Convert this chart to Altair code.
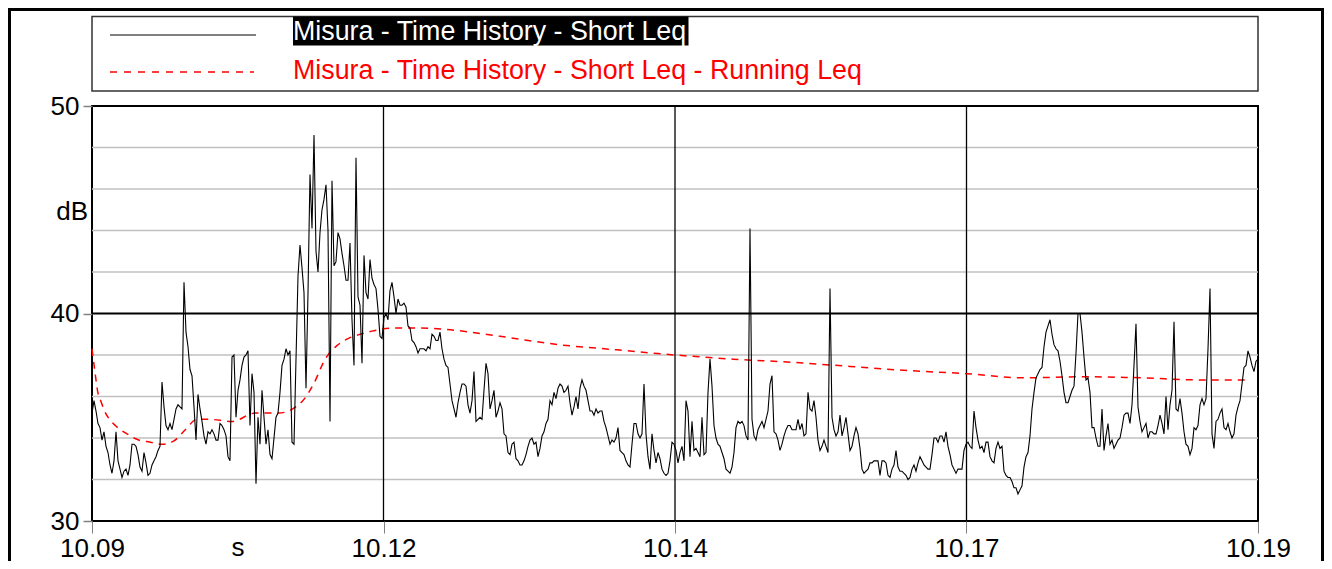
import json
import altair as alt
import pandas as pd

# ---------------- data ----------------
T_START = 10.09
T_END = 10.19
N_INTERVALS = 583  # uniform sampling of the short Leq time history

short_leq = [
    35.2, 35.8, 35.3, 34.7, 34.5, 33.9, 34.3, 33.6, 33.3, 32.7,
    32.3, 32.9, 34.3, 32.9, 32.5, 32.1, 32.4, 32.5, 32.2, 32.7,
    33.7, 33.7, 33.6, 33.2, 32.6, 32.4, 33.3, 32.8, 32.2, 32.3,
    32.7, 32.9, 33.1, 33.4, 33.6, 36.7, 35.5, 34.6, 34.4, 34.7,
    34.4, 34.9, 35.4, 35.6, 35.5, 35.4, 41.5, 39.1, 38.4, 37.3,
    37.0, 35.5, 33.9, 36.1, 35.4, 34.8, 34.1, 33.7, 34.3, 34.2,
    34.4, 34.2, 33.9, 33.9, 34.7, 34.6, 34.4, 34.1, 33.1, 32.9,
    37.9, 38.0, 35.0,
    36.3, 36.8, 37.5, 37.9, 38.0, 38.2, 34.6, 37.1, 36.2, 31.8,
    35.0, 33.7, 36.3, 35.0, 33.7, 34.4, 33.2, 33.0, 34.0, 35.0,
    35.2, 36.2, 37.5, 37.8, 38.3, 38.0, 38.2, 33.8, 33.7, 37.8,
    41.8, 43.3, 42.2, 41.0, 36.4, 41.0, 46.7, 44.1, 48.6, 43.0,
    42.0, 43.9, 45.0, 45.5, 46.2, 44.0, 34.8, 46.4, 42.3, 42.5,
    43.9, 43.6, 42.9, 42.3, 41.6, 41.6, 43.4, 39.7, 37.5, 47.5,
    40.8, 40.4, 37.6, 42.8, 41.0, 40.7, 42.6, 41.7, 41.4, 41.2,
    40.2, 38.9, 38.8,
    39.8, 40.0, 39.7, 41.1, 41.5, 40.8, 40.0, 40.7, 40.4, 40.4,
    40.5, 40.3, 39.4, 39.3, 38.7, 38.6, 38.4, 38.1, 38.3, 38.3,
    38.3, 38.2, 38.4, 38.3, 39.0, 38.9, 38.7, 38.7, 39.1, 38.3,
    37.8, 37.5, 37.4, 36.6, 35.8, 35.4, 35.0, 35.7, 36.2, 36.6,
    36.6, 36.5, 35.6, 35.2, 35.8, 37.2, 34.8, 34.9, 35.0, 34.9,
    36.3, 37.6, 37.1, 35.4, 35.8, 36.3, 35.0, 35.3, 35.7, 35.4,
    34.2, 34.1, 33.3, 33.2, 33.7, 33.8, 33.0, 32.9, 32.7, 32.7,
    32.9, 33.2, 33.6,
    33.9, 34.0, 33.7, 33.8, 33.1, 33.5, 34.1, 34.3, 34.7, 34.9,
    35.8, 35.6, 36.2, 35.9, 36.4, 36.6, 36.5, 36.2, 36.3, 36.5,
    35.7, 35.1, 35.5, 36.0, 35.4, 36.4, 36.8, 36.5, 36.3, 35.8,
    35.3, 35.3, 35.1, 35.4, 35.2, 35.3, 35.3, 34.8, 34.5, 34.1,
    33.7, 33.9, 33.8, 34.0, 34.5, 33.4, 33.3, 33.2, 32.9, 32.7,
    32.6, 33.7, 34.7, 34.7, 34.2, 34.0, 34.2, 36.6, 34.2, 33.1,
    32.5, 34.2, 33.4, 32.8, 33.3, 33.0, 32.5, 32.3, 32.2, 32.3,
    32.9, 33.8, 33.7,
    33.4, 32.8, 33.3, 33.6, 32.9, 35.8, 35.3, 33.1, 34.8, 33.4,
    33.5, 33.3, 33.1, 35.0, 33.2, 33.3, 36.2, 37.8, 36.5, 34.6,
    34.0, 33.7, 33.6, 33.3, 33.0, 32.5, 32.4, 32.3, 32.6, 33.3,
    34.5, 34.8, 34.7, 34.8, 34.6, 34.1, 33.9, 44.1, 34.9, 34.1,
    33.9, 34.4, 34.6, 34.8, 34.5, 34.9, 35.3, 36.6, 37.0, 34.3,
    34.2, 33.9, 33.4, 33.7, 34.1, 34.4, 34.6, 34.6, 34.4, 34.4,
    34.4, 34.9, 34.4, 34.7, 34.1, 34.2, 36.2, 35.4, 35.3, 35.8,
    35.0, 33.9, 33.4,
    33.6, 33.9, 33.6, 33.3, 41.2, 35.0, 34.4, 34.1, 34.3, 35.1,
    34.1, 34.5, 35.0, 34.2, 33.4, 33.6, 34.1, 34.5, 34.2, 33.5,
    32.5, 32.3, 32.4, 32.5, 32.8, 32.8, 32.9, 32.9, 32.9, 32.2,
    32.9, 32.9, 32.8, 32.2, 32.1, 32.5, 32.7, 33.4, 32.6, 32.4,
    32.4, 32.3, 32.2, 32.0, 32.1, 32.5, 32.7, 32.4, 32.8, 33.1,
    32.9, 32.7, 32.6, 32.5, 32.5, 33.2, 34.0, 34.0, 33.8, 34.1,
    34.1, 33.8, 34.3, 33.6, 33.2, 32.7, 32.5, 32.3, 32.5, 32.5,
    32.5, 33.4, 33.7,
    33.8, 33.6, 33.5, 35.3, 34.5, 33.9, 33.5, 33.6, 33.3, 33.8,
    33.8, 33.1, 32.9, 32.8, 33.5, 33.8, 33.5, 33.6, 32.4, 32.2,
    32.1, 32.1, 31.9, 31.6, 31.6, 31.3, 31.5, 31.7, 32.6, 33.1,
    33.3, 34.1, 35.4, 36.2, 36.9, 37.1, 37.3, 37.4, 38.4, 39.1,
    39.4, 39.7, 39.0, 38.5, 38.3, 38.2, 37.7, 37.0, 36.2, 35.7,
    35.7, 36.0, 36.3, 36.5, 38.1, 40.0, 40.0, 39.1, 37.9, 36.8,
    36.9, 36.2, 34.5, 34.5, 34.0, 33.6, 33.6, 35.4, 33.4, 34.1,
    34.7, 33.7, 33.9,
    33.5, 33.7, 33.9, 34.0, 34.5, 35.1, 35.2, 35.2, 34.7, 35.6,
    37.5, 39.5, 35.5, 34.8, 34.3, 34.5, 34.7, 34.0, 34.3, 34.3,
    34.2, 34.2, 34.6, 35.1, 34.7, 34.2, 36.0, 34.4, 35.6, 36.3,
    39.6, 35.4, 35.3, 35.9, 35.2, 34.3, 33.7, 33.6, 33.2, 33.5,
    34.5, 34.4, 34.6, 35.6, 35.9, 35.6, 35.9, 38.3, 41.2, 34.2,
    33.5, 34.8, 34.9, 35.2, 35.4, 34.5, 34.4, 34.7, 34.3, 34.0,
    34.2, 35.1, 35.5, 35.8, 36.6, 37.4, 37.5, 38.2, 37.9, 37.5,
    37.2, 37.7, 37.8,
]

# running Leq: time offset (ms from 10.09 s) and level (dB)
running_ms = [0, 0.25, 0.5, 0.75, 1, 1.5, 2, 3, 4, 5, 6, 7, 8, 9, 10, 12, 14, 16,
              18, 19, 20, 21, 22, 23, 24, 26, 28, 30, 35, 40, 45, 50, 55, 60, 65,
              70, 75, 80, 85, 90, 95, 99]
running_leq = [38.3, 37.2, 36.2, 35.8, 35.4, 34.9, 34.6, 34.2, 33.9, 33.8, 33.7,
               33.85, 34.4, 34.9, 34.9, 34.8, 35.2, 35.2, 35.75, 36.6, 37.8, 38.45,
               38.8, 39.0, 39.15, 39.3, 39.3, 39.25, 38.9, 38.5, 38.25, 38.0, 37.8,
               37.65, 37.45, 37.25, 37.1, 36.9, 36.95, 36.9, 36.8, 36.8]

x_tick_values = [10.09, 10.115, 10.14, 10.165, 10.19]
x_tick_labels = ["10.09", "10.12", "10.14", "10.17", "10.19"]
x_major_lines = [10.115, 10.14, 10.165]
y_label_values = [30, 40, 50]
y_grid_values = [32, 34, 36, 38, 40, 42, 44, 46, 48]
legend_labels = ["Misura - Time History - Short Leq",
                 "Misura - Time History - Short Leq - Running Leq"]
y_unit = "dB"
x_unit = "s"

# ---------------- tables ----------------
dt = (T_END - T_START) / N_INTERVALS
df_short = pd.DataFrame({"t": [T_START + i * dt for i in range(len(short_leq))],
                         "v": short_leq})
df_run = pd.DataFrame({"t": [T_START + m / 1000.0 for m in running_ms],
                       "v": running_leq})
df_hgrid = pd.DataFrame({"v": y_grid_values})
df_vgrid = pd.DataFrame({"t": x_major_lines})
one = pd.DataFrame({"a": [0]})

FONT = "Liberation Sans"
W, H = 1166, 415
TICK_X = 12
PAD_X = 2

xs = alt.Scale(domain=[T_START, T_END], nice=False, zero=False)
ys = alt.Scale(domain=[30, 50], nice=False, zero=False)

label_expr = "%s[round((datum.value - %r) / %r)]" % (
    json.dumps(x_tick_labels), T_START, (T_END - T_START) / (len(x_tick_values) - 1))

x_axis = alt.Axis(values=x_tick_values, labelExpr=label_expr, title=None, grid=False,
                  domain=False, tickColor="#808080", tickSize=TICK_X, tickWidth=1,
                  labelFontSize=26, labelPadding=PAD_X, labelFlush=False,
                  labelOverlap=False, labelFont=FONT, labelColor="black")
y_axis = alt.Axis(values=y_label_values, title=None, grid=False, domain=False,
                  tickColor="#808080", tickSize=9, tickWidth=1.5, labelFontSize=26,
                  labelPadding=4, labelFont=FONT, labelColor="black")

X = lambda f: alt.X(f, scale=xs, axis=x_axis)
Y = lambda f: alt.Y(f, scale=ys, axis=y_axis)

hgrid = alt.Chart(df_hgrid).mark_rule().encode(
    y=Y("v:Q"),
    color=alt.condition(alt.datum.v == 40, alt.value("black"), alt.value("#c0c0c0")),
    strokeWidth=alt.condition(alt.datum.v == 40, alt.value(1.8), alt.value(1.5)),
)
vgrid = alt.Chart(df_vgrid).mark_rule(color="black", strokeWidth=1.3).encode(x=X("t:Q"))

line_short = alt.Chart(df_short).mark_line(color="black", strokeWidth=1.1).encode(
    x=X("t:Q"), y=Y("v:Q"))
line_run = alt.Chart(df_run).mark_line(color="#ff0000", strokeWidth=1.5,
                                        strokeDash=[7, 6], interpolate="monotone").encode(
    x=X("t:Q"), y=Y("v:Q"))

# frame and legend decorations
frame = alt.Chart(one).mark_rect(filled=False, stroke="black", strokeWidth=3).encode(
    x=alt.value(-82.5), x2=alt.value(1230.5), y=alt.value(-96.5), y2=alt.value(480))
leg_box = alt.Chart(one).mark_rect(fill="white", stroke="#333333", strokeWidth=1.5).encode(
    x=alt.value(0), x2=alt.value(W), y=alt.value(-89.5), y2=alt.value(-15))
leg_line1 = alt.Chart(one).mark_rule(color="black", strokeWidth=1).encode(
    x=alt.value(18), x2=alt.value(164), y=alt.value(-71))
leg_line2 = alt.Chart(one).mark_rule(color="#ff0000", strokeWidth=1.5, strokeDash=[7, 7]).encode(
    x=alt.value(18), x2=alt.value(162), y=alt.value(-34))
leg_bg = alt.Chart(one).mark_rect(fill="black").encode(
    x=alt.value(201), x2=alt.value(596.5), y=alt.value(-89.5), y2=alt.value(-60.5))
leg_t1 = alt.Chart(one).mark_text(text=legend_labels[0], color="white", font=FONT,
                                  fontSize=26.8, align="left", baseline="alphabetic").encode(
    x=alt.value(201), y=alt.value(-66.5))
leg_t2 = alt.Chart(one).mark_text(text=legend_labels[1], color="#ff0000", font=FONT,
                                  fontSize=26.8, align="left", baseline="alphabetic").encode(
    x=alt.value(201), y=alt.value(-27.5))
unit_y = alt.Chart(one).mark_text(text=y_unit, color="black", font=FONT, fontSize=26,
                                  align="right", baseline="alphabetic").encode(
    x=alt.value(-4), y=alt.value(114))
unit_x = alt.Chart(one).mark_text(text=x_unit, color="black", font=FONT, fontSize=26,
                                  align="center", baseline="top").encode(
    x=alt.value(146), y=alt.value(H + TICK_X + PAD_X))

chart = alt.layer(
    hgrid, vgrid, line_run, line_short,
    frame, leg_box, leg_line1, leg_line2, leg_bg, leg_t1, leg_t2, unit_y, unit_x,
).properties(
    width=W, height=H,
    autosize=alt.AutoSizeParams(type="none"),
    padding={"left": 84, "top": 98, "right": 66, "bottom": 40},
).configure_view(stroke="black", strokeWidth=2)

chart.save("out.html", embed_options={"renderer": "svg", "actions": False})
